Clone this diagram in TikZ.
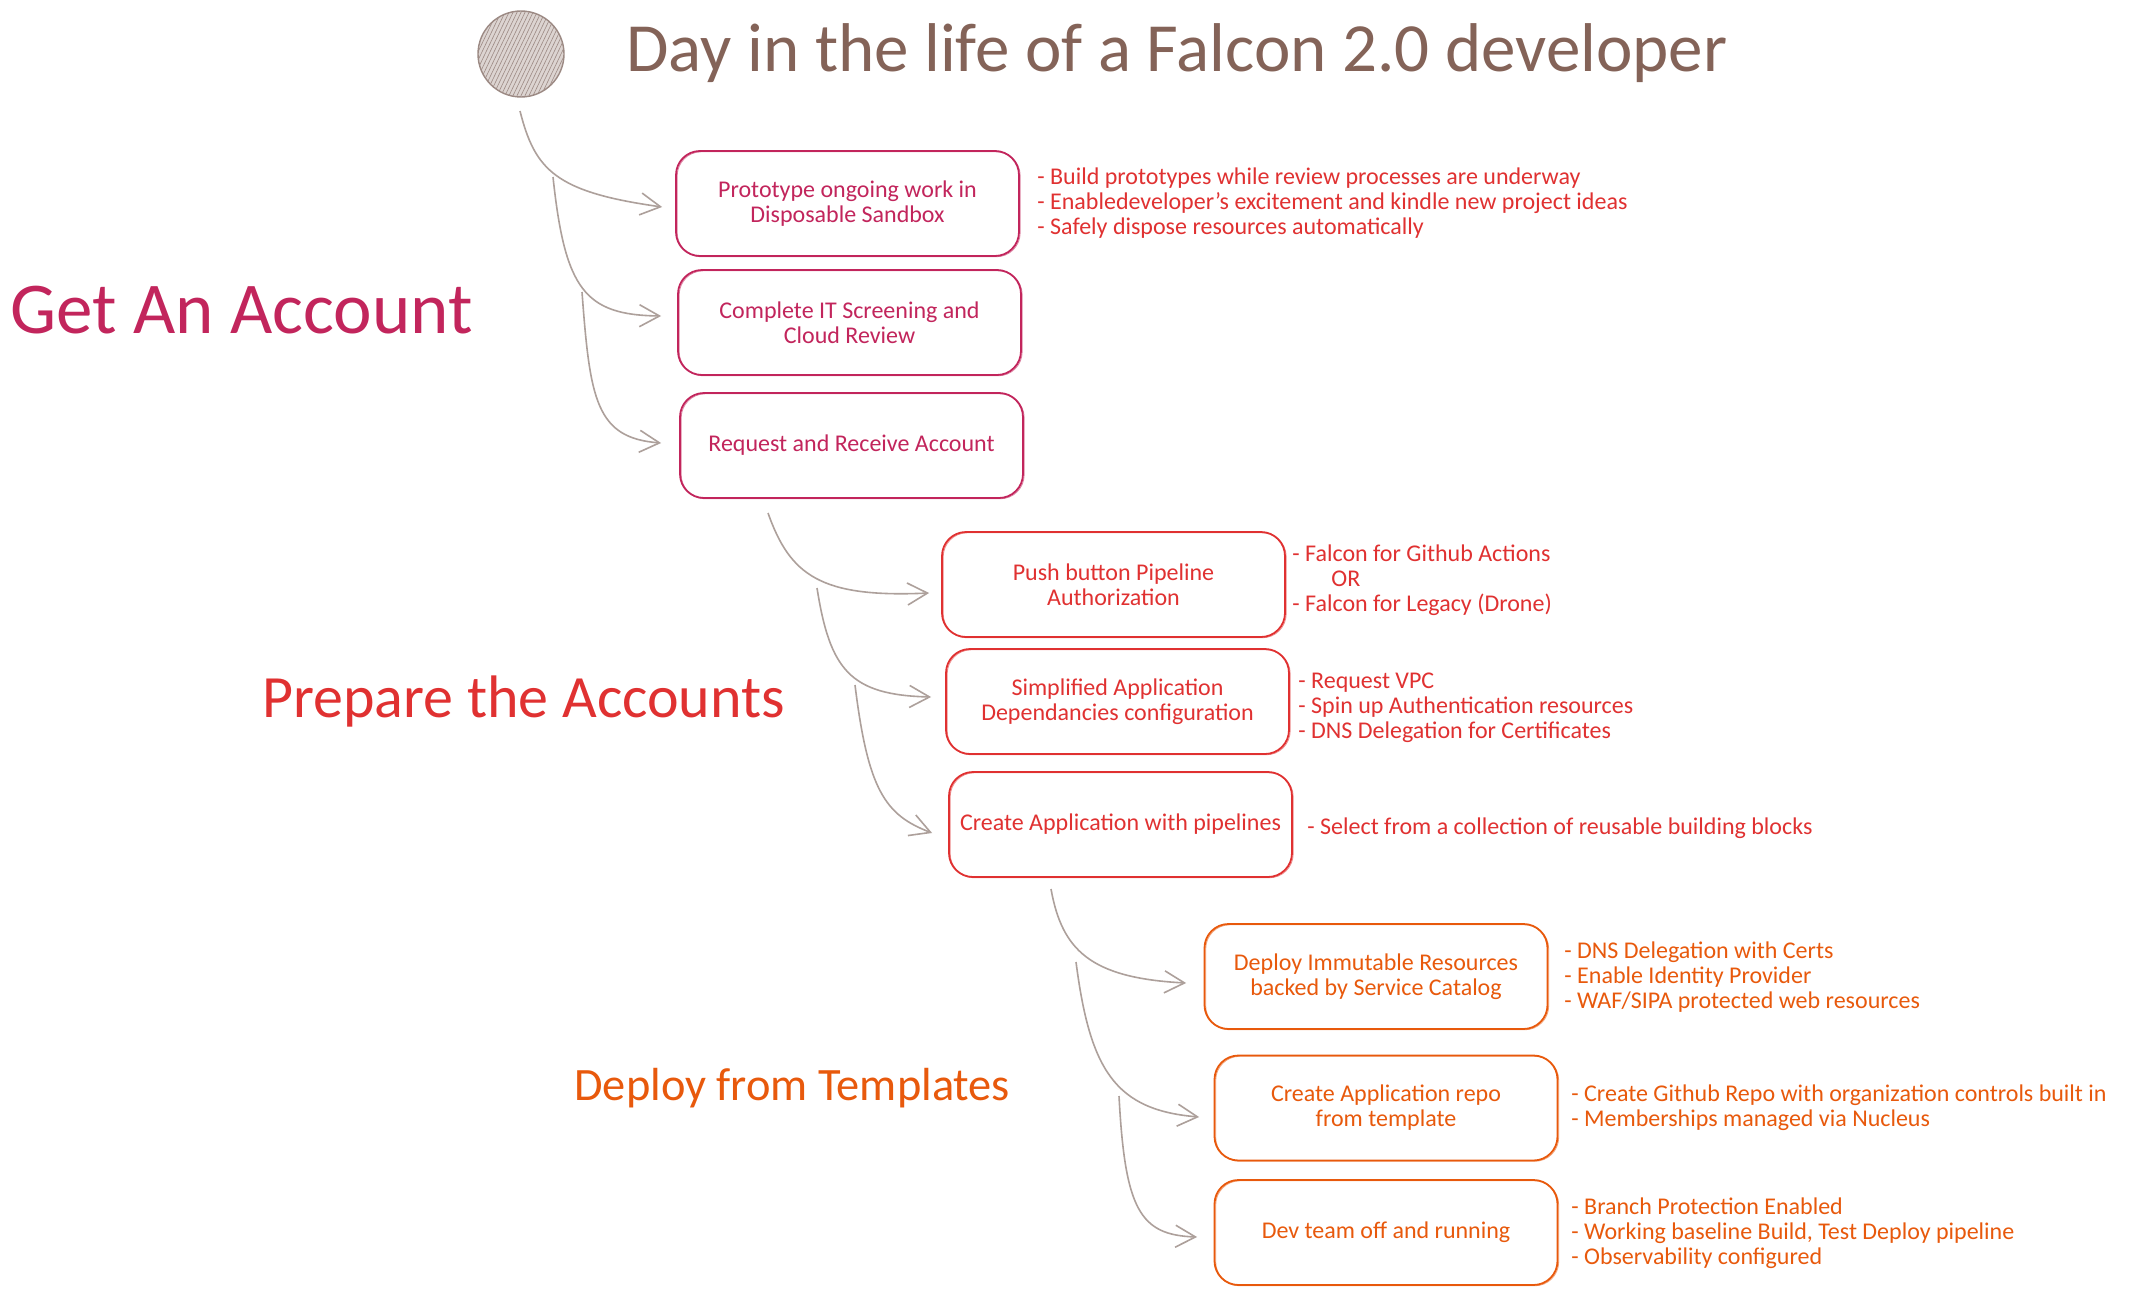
\documentclass[tikz,border=0pt]{standalone}
\usepackage{fontspec}
\setmainfont{Carlito}
\usetikzlibrary{arrows.meta,calc}

\definecolor{titlebrown}{HTML}{846358}
\definecolor{inkrose}{HTML}{C2255C}
\definecolor{inkred}{HTML}{E03131}
\definecolor{inkorange}{HTML}{E8590C}
\definecolor{linkgrey}{HTML}{ADA09B}
\definecolor{dotfill}{HTML}{DCD4D1}
\definecolor{dotline}{HTML}{9C8A84}

\begin{document}
\begin{tikzpicture}[x=0.5pt,y=-0.5pt,
  stepbox/.style={draw, rounded corners=12pt, minimum width=171.5pt,
    minimum height=52.5pt, inner sep=0pt, align=center, line width=0.9pt,
    font=\fontsize{12}{12.5}\selectfont,
    postaction={draw, line width=0.4pt, opacity=0.55,
      transform canvas={shift={(0.6pt,-0.4pt)}}}},
  note/.style={anchor=west, align=left, inner sep=0pt,
    font=\fontsize{12}{12.5}\selectfont},
  heading/.style={anchor=base west, inner sep=0pt},
  conn/.style={draw=linkgrey, line width=0.8pt,
    -{Straight Barb[length=10pt,width=11pt]}},
]
\useasboundingbox (0,0) rectangle (2134,1295);
\fill[white] (0,0) rectangle (2134,1295);

% starting dot with hatching
\node[circle, minimum size=43pt, inner sep=0pt, draw=dotline, line width=0.7pt,
  fill=dotfill,
  path picture={
    \foreach \k in {-40,-38,...,40}
      \draw[dotline, line width=0.3pt]
        ([xshift=\k pt]path picture bounding box.center) ++(-12pt,-25pt) -- ++(24pt,50pt);
  }] (start) at (521,54) {};

% headings
\node[heading, text=titlebrown, font=\fontsize{34.5}{40}\selectfont] (title) at (626,72)
  {Day in the life of a Falcon 2.0 developer};
\node[heading, text=inkrose, font=\fontsize{36.5}{42}\selectfont] (hget) at (10,333)
  {Get An Account};
\node[heading, text=inkred, font=\fontsize{30}{36}\selectfont] (hprep) at (262,717)
  {Prepare the Accounts};
\node[heading, text=inkorange, font=\fontsize{23.2}{28}\selectfont] (hdeploy) at (574,1100)
  {Deploy from Templates};

% stage 1: get an account
\node[stepbox, draw=inkrose, text=inkrose] (b1) at (847.5,203.5)
  {Prototype ongoing work in\\Disposable Sandbox};
\node[stepbox, draw=inkrose, text=inkrose] (b2) at (849.5,322.5)
  {Complete IT Screening and\\Cloud Review};
\node[stepbox, draw=inkrose, text=inkrose] (b3) at (851.5,445.5)
  {Request and Receive Account};

% stage 2: prepare the accounts
\node[stepbox, draw=inkred, text=inkred] (b4) at (1113.5,584.5)
  {Push button Pipeline\\Authorization};
\node[stepbox, draw=inkred, text=inkred] (b5) at (1117.5,701.5)
  {Simplified Application\\Dependancies configuration};
\node[stepbox, draw=inkred, text=inkred] (b6) at (1120.5,824.5)
  {Create Application with pipelines};

% stage 3: deploy from templates
\node[stepbox, draw=inkorange, text=inkorange] (b7) at (1376,976.5)
  {Deploy Immutable Resources\\backed by Service Catalog};
\node[stepbox, draw=inkorange, text=inkorange] (b8) at (1386,1108)
  {Create Application repo\\from template};
\node[stepbox, draw=inkorange, text=inkorange] (b9) at (1386,1232.5)
  {Dev team off and running};

% side notes
\node[note, text=inkred] (n1) at (1037,203)
  {- Build prototypes while review processes are underway\\
   - Enabledeveloper's excitement and kindle new project ideas\\
   - Safely dispose resources automatically};
\node[note, text=inkred] (n4) at (1292,580)
  {- Falcon for Github Actions\\
   \hspace*{19.5pt}OR\\
   - Falcon for Legacy (Drone)};
\node[note, text=inkred] (n5) at (1298,708)
  {- Request VPC\\
   - Spin up Authentication resources\\
   - DNS Delegation for Certificates};
\node[note, text=inkred] (n6) at (1307,828)
  {- Select from a collection of reusable building blocks};
\node[note, text=inkorange] (n7) at (1564,977)
  {- DNS Delegation with Certs\\
   - Enable Identity Provider\\
   - WAF/SIPA protected web resources};
\node[note, text=inkorange] (n8) at (1571,1108)
  {- Create Github Repo with organization controls built in\\
   - Memberships managed via Nucleus};
\node[note, text=inkorange] (n9) at (1571,1233)
  {- Branch Protection Enabled\\
   - Working baseline Build, Test Deploy pipeline\\
   - Observability configured};

% connector anchors
\coordinate (g1s) at (520,111);
\coordinate (g1a) at (553,177);
\coordinate (g1b) at (582,292);
\coordinate (g2s) at (768,513);
\coordinate (g2a) at (817,588);
\coordinate (g2b) at (855,685);
\coordinate (g3s) at (1051,889);
\coordinate (g3a) at (1076,962);
\coordinate (g3b) at (1119,1096);

% branching connectors, stage 1
\draw[conn] (g1s) .. controls (535,170) and (555,192) .. ($(b1.west)+(-13,3.5)$);
\draw[conn] (g1a) .. controls (565,290) and (585,315) .. ($(b2.west)+(-16,-6.5)$);
\draw[conn] (g1b) .. controls (590,400) and (596,438) .. ($(b3.west)+(-18,-2.5)$);

% branching connectors, stage 2
\draw[conn] (g2s) .. controls (790,575) and (820,598) .. ($(b4.west)+(-12,8.5)$);
\draw[conn] (g2a) .. controls (830,670) and (850,695) .. ($(b5.west)+(-14,-4.5)$);
\draw[conn] (g2b) .. controls (868,790) and (885,815) .. ($(b6.west)+(-16,8.5)$);

% branching connectors, stage 3
\draw[conn] (g3s) .. controls (1062,950) and (1090,978) .. ($(b7.west)+(-17.5,6.5)$);
\draw[conn] (g3a) .. controls (1090,1070) and (1115,1110) .. ($(b8.west)+(-14.5,9)$);
\draw[conn] (g3b) .. controls (1125,1210) and (1140,1235) .. ($(b9.west)+(-16.5,4.5)$);
\end{tikzpicture}
\end{document}
